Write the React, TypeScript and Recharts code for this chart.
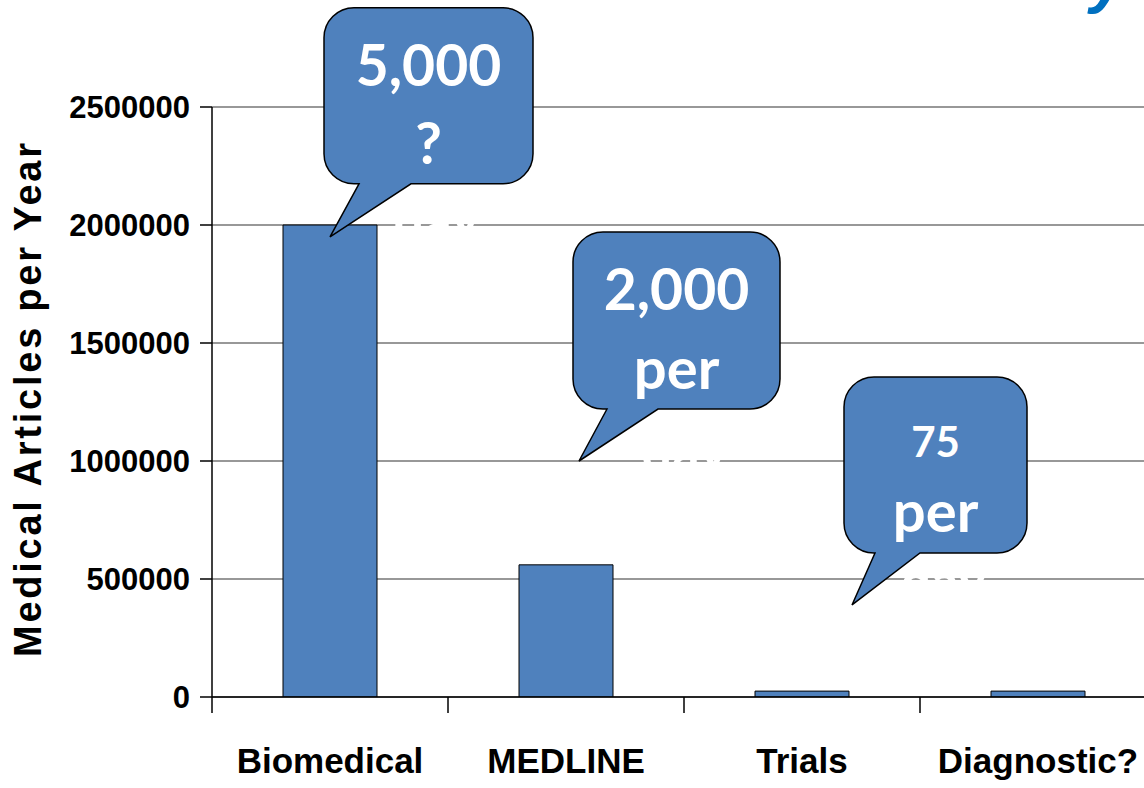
import React from 'react';
import { BarChart, Bar, XAxis, YAxis, CartesianGrid, ReferenceDot } from 'recharts';

// Articles published per year by source
const categories = ['Biomedical', 'MEDLINE', 'Trials', 'Diagnostic?'];
const articlesPerYear = [2000000, 560000, 25000, 25000];
const yTicks = [0, 500000, 1000000, 1500000, 2000000, 2500000];

// Speech-bubble callouts: where each tail points and what it says
const calloutCategories = ['Biomedical', 'MEDLINE', 'Trials'];
const calloutTipValues = [1950000, 1000000, 390000];
const calloutTopLines = ['5,000', '2,000', '75'];
const calloutBottomLines = ['?', 'per', 'per'];
const calloutHiddenLines = ['day', 'day', 'day'];

const data = categories.map((name, i) => ({ name, value: articlesPerYear[i] }));

const BLUE = '#4F81BD';
const AXIS_FONT = '"Liberation Sans", Arial, sans-serif';
const BUBBLE_FONT = 'Lato, "Open Sans", sans-serif';

// Shape geometry of each bubble, relative to its tail tip (pixels)
const bubbleGeom = [
  { tipDx: 0, left: -6, top: -229, w: 209, h: 176, tailA: 29, tailB: 81, top1: -151, size1: 57, base2: -73, base3: 2 },
  { tipDx: 13, left: -6, top: -229, w: 207, h: 177, tailA: 28, tailB: 79, top1: -151, size1: 57, base2: -72, base3: 10 },
  { tipDx: 50, left: -8, top: -228, w: 183, h: 176, tailA: 23, tailB: 68, top1: -148, size1: 42, base2: -73, base3: -4 },
];

function bubblePath(tx: number, ty: number, g: any) {
  const L = tx + g.left;
  const T = ty + g.top;
  const R = L + g.w;
  const B = T + g.h;
  const r = 30;
  const a = tx + g.tailA;
  const b = tx + g.tailB;
  return [
    `M ${a} ${B}`,
    `L ${tx} ${ty}`,
    `L ${b} ${B}`,
    `L ${R - r} ${B}`,
    `A ${r} ${r} 0 0 0 ${R} ${B - r}`,
    `L ${R} ${T + r}`,
    `A ${r} ${r} 0 0 0 ${R - r} ${T}`,
    `L ${L + r} ${T}`,
    `A ${r} ${r} 0 0 0 ${L} ${T + r}`,
    `L ${L} ${B - r}`,
    `A ${r} ${r} 0 0 0 ${L + r} ${B}`,
    'Z',
  ].join(' ');
}

function makeCallout(i: number) {
  return (props: any) => {
    const { cx, cy } = props;
    if (cx == null || cy == null) return null;
    const g = bubbleGeom[i];
    const tx = cx + g.tipDx;
    const ty = cy;
    const centerX = tx + g.left + g.w / 2;
    return (
      <g>
        <text x={centerX + 8} y={ty + g.base3} textAnchor="middle" fill="#fff" fontFamily={BUBBLE_FONT} fontWeight={700} fontSize={54}>
          {calloutHiddenLines[i]}
        </text>
        <path d={bubblePath(tx, ty, g)} fill={BLUE} stroke="#000" strokeWidth={1.5} strokeLinejoin="miter" />
        <text x={centerX} y={ty + g.top1} textAnchor="middle" fill="#fff" fontFamily={BUBBLE_FONT} fontWeight={700} fontSize={g.size1}>
          {calloutTopLines[i]}
        </text>
        <text x={centerX} y={ty + g.base2} textAnchor="middle" fill="#fff" fontFamily={BUBBLE_FONT} fontWeight={700} fontSize={58}>
          {calloutBottomLines[i]}
        </text>
      </g>
    );
  };
}

// Category labels with tick marks at the band boundaries
function CategoryTick(props: any) {
  const { x, y, payload } = props;
  const half = payload && payload.offset ? payload.offset : 118;
  return (
    <g>
      <line x1={x - half} x2={x - half} y1={y - 8} y2={y + 8} stroke="#000" strokeWidth={1.5} />
      <text x={x} y={y + 68} textAnchor="middle" fill="#000" fontFamily={AXIS_FONT} fontWeight={700} fontSize={35}>
        {payload.value}
      </text>
    </g>
  );
}

function YAxisTitle() {
  return (
    <text
      x={0}
      y={0}
      transform="translate(41 400) rotate(-90)"
      textAnchor="middle"
      fill="#000"
      fontFamily={AXIS_FONT}
      fontWeight={700}
      fontSize={38}
      textLength={514}
      lengthAdjust="spacing"
    >
      Medical Articles per Year
    </text>
  );
}

export default function App() {
  return (
    <div style={{ position: 'absolute', left: 0, top: 0, width: 1144, height: 788, overflow: 'hidden', background: '#fff' }}>
      <BarChart width={1160} height={788} data={data} margin={{ top: 107, right: 4, bottom: 0, left: 0 }}>
        <CartesianGrid horizontal vertical={false} stroke="#333" strokeWidth={1.2} />
        <XAxis
          dataKey="name"
          height={91}
          axisLine={{ stroke: '#000', strokeWidth: 1.5 }}
          tickLine={false}
          tick={<CategoryTick />}
          interval={0}
        />
        <YAxis
          width={212}
          domain={[0, 2500000]}
          ticks={yTicks}
          interval={0}
          allowDataOverflow
          axisLine={{ stroke: '#000', strokeWidth: 1.5 }}
          tickLine={{ stroke: '#000', strokeWidth: 1.5 }}
          tickSize={12}
          tickMargin={10}
          tick={{ fill: '#000', fontFamily: AXIS_FONT, fontWeight: 700, fontSize: 31 }}
          label={<YAxisTitle />}
        />
        <Bar dataKey="value" fill={BLUE} stroke="#000" strokeWidth={1} barSize={94} isAnimationActive={false} />
        {calloutCategories.map((c, i) => (
          <ReferenceDot
            key={c}
            x={c}
            y={calloutTipValues[i]}
            r={0}
            ifOverflow="visible"
            shape={makeCallout(i)}
          />
        ))}
      </BarChart>
      <svg width={1144} height={30} style={{ position: 'absolute', left: 0, top: 0 }}>
        <text x={1090} y={1} fill="#0070C0" fontFamily={AXIS_FONT} fontWeight={700} fontStyle="italic" fontSize={64}>
          y
        </text>
      </svg>
    </div>
  );
}
